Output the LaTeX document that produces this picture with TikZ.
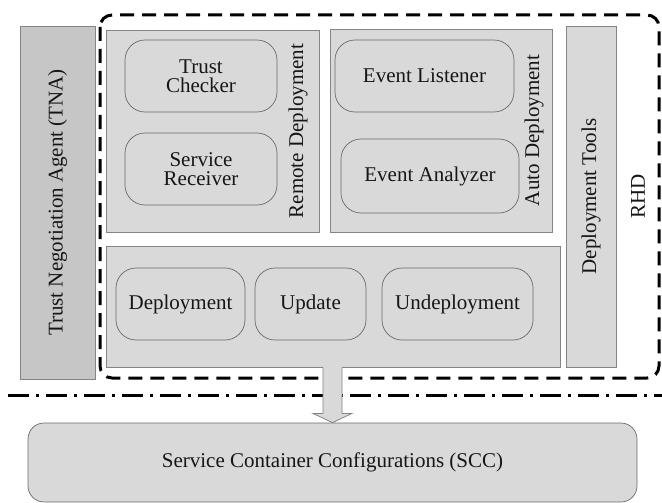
\documentclass[tikz,border=0pt]{standalone}
\usepackage{fontspec}
\setmainfont{Liberation Serif}
\usetikzlibrary{calc}
\definecolor{boxfill}{HTML}{D9D9D9}
\definecolor{agentfill}{HTML}{C6C6C6}
\definecolor{boxline}{HTML}{858585}
\definecolor{ink}{HTML}{161616}
\tikzset{
  x=1pt, y=-1pt,
  every node/.style={font=\fontsize{21}{19.5}\selectfont, text=ink, align=center, inner sep=0pt},
  panel/.style={draw=boxline, fill=boxfill, line width=0.8pt},
  agent/.style={draw=boxline, fill=agentfill, line width=0.8pt},
  module/.style={draw=boxline!80!black, fill=boxfill, line width=0.7pt, rounded corners=20pt},
  sidelabel/.style={rotate=90},
  rhdline/.style={line width=3pt, dash pattern=on 14pt off 8pt, rounded corners=12pt},
  splitline/.style={line width=3pt, dash pattern=on 21pt off 7pt on 3pt off 7pt},
}
\begin{document}
\begin{tikzpicture}
\useasboundingbox (0,0) rectangle (662,503);

% negotiation agent on the left
\node[agent, minimum width=75pt, minimum height=353pt] (tna) at (57.5,202.5) {};
\node[sidelabel] (tnalbl) at (57.5,202.5) {Trust Negotiation Agent (TNA)};

% remote deployment panel
\node[panel, minimum width=213pt, minimum height=202pt] (remote) at (212.5,131) {};
\node[module, minimum width=152pt, minimum height=72pt] (checker) at (201,76) {Trust\\Checker};
\node[module, minimum width=152pt, minimum height=72pt] (receiver) at (201,169) {Service\\Receiver};
\node[sidelabel] (remotelbl) at (298,131) {Remote Deployment};

% auto deployment panel
\node[panel, minimum width=222pt, minimum height=203pt] (auto) at (441,130.5) {};
\node[module, minimum width=179pt, minimum height=72pt] (listener) at (424.5,76) {Event Listener};
\node[module, minimum width=178pt, minimum height=74pt] (analyzer) at (430,176) {Event Analyzer};
\node[sidelabel] (autolbl) at (534,130.5) {Auto Deployment};

% deployment tools column
\node[panel, minimum width=50pt, minimum height=341pt] (tools) at (591,196.5) {};
\node[sidelabel] (toolslbl) at (591,196.5) {Deployment Tools};

% operations panel
\node[panel, minimum width=454pt, minimum height=121pt] (ops) at (333,306.5) {};
\node[module, minimum width=129pt, minimum height=72pt] (deploy) at (180.5,304) {Deployment};
\node[module, minimum width=111pt, minimum height=72pt] (update) at (310.5,304) {Update};
\node[module, minimum width=151pt, minimum height=72pt] (undeploy) at (457.5,304) {Undeployment};

% RHD boundary
\node[sidelabel] (rhdlbl) at (638,196) {RHD};
\coordinate (rhdnw) at (100,15);
\coordinate (rhdse) at (659,378);
\draw[rhdline] (rhdnw) rectangle (rhdse);

% separation line
\coordinate (splitw) at (8,395);
\coordinate (splite) at (662,395);
\draw[splitline] (splitw) -- (splite);

% container configurations
\node[module, rounded corners=16pt, minimum width=609pt, minimum height=79pt] (scc) at (332.5,462.5) {Service Container Configurations (SCC)};

% block arrow from the operations panel down to the configurations
\coordinate (shl) at ($(ops.south)+(-10,-0.4)$);
\coordinate (shr) at ($(ops.south)+(9,-0.4)$);
\fill[boxfill] (shl) -- ++(0,46.4) -- ++(-10,0) -- (scc.north) -- ($(shr)+(10,46.4)$) -- ++(-10,0) -- (shr) -- cycle;
\draw[boxline, line width=0.8pt, line join=miter] ($(shl)+(0,0.4)$) -- ++(0,46) -- ++(-10,0) -- (scc.north) -- ($(shr)+(10,46.4)$) -- ++(-10,0) -- ($(shr)+(0,0.4)$);
\end{tikzpicture}
\end{document}
